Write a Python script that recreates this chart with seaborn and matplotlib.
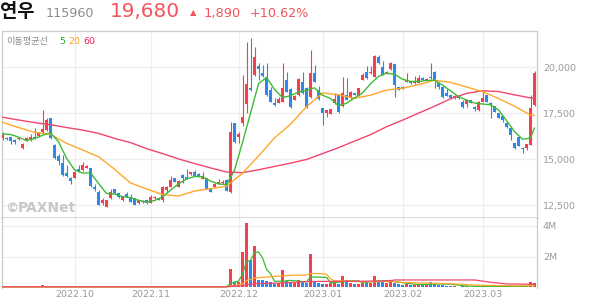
import numpy as np
import matplotlib
matplotlib.use("Agg")
import matplotlib.pyplot as plt
import seaborn as sns

# ---------------- data ----------------
month_labels = ["2022.10", "2022.11", "2022.12", "2023.01", "2023.02", "2023.03"]
month_pos = [18, 37, 59, 80, 100, 120]
price_ticks = [12500, 15000, 17500, 20000]
vol_ticks = [2, 4]

opens = [16150, 16168, 16186, 16023, 16096, 15606, 16005, 16096, 16223, 16260,
         16450, 16560, 17221, 15770, 15171, 14771, 14264, 13955, 13973, 14464,
         14409, 14518, 14500, 13500, 13229, 12594, 12413, 12865, 13355, 13137,
         12774, 13083, 12865, 12865, 12593, 12640, 12774, 12593, 12865, 12865,
         12800, 13319, 13500, 13954, 13500, 14136, 14045, 14190, 14317, 14190,
         13918, 13954, 13355, 13500, 13646, 13680, 13864, 13228, 16949, 16187,
         16985, 18002, 18855, 19581, 20071, 19672, 19490, 18764, 18074, 18074,
         18129, 19309, 18837, 18220, 18492, 19218, 18855, 18401, 19672, 18764,
         17766, 17494, 17457, 18038, 18492, 17893, 18492, 18310, 18582, 18437,
         19309, 19762, 19672, 19490, 20579, 20035, 19635, 19889, 20180, 18909,
         18946, 19218, 19254, 19127, 19163, 19436, 19254, 19490, 19762, 19127,
         18909, 18619, 18492, 18310, 18455, 18129, 18002, 18220, 17857, 17675,
         18129, 18492, 18074, 17893, 17494, 17348, 16949, 16677, 15860, 16223,
         15624, 15588, 15770, 17947]
highs = [16495, 16200, 16220, 16078, 16223, 15880, 16230, 16340, 16700, 16450,
         17675, 17250, 17221, 15800, 15280, 15225, 14681, 14046, 14350, 14681,
         14862, 14660, 14530, 13645, 13300, 12866, 12800, 13355, 13380, 13150,
         13000, 13228, 13083, 12900, 12800, 12770, 12800, 13047, 13000, 12900,
         13550, 13520, 14100, 13980, 13850, 14180, 14444, 14300, 14400, 14220,
         14317, 13980, 13380, 13700, 13890, 13860, 13920, 17040, 16949, 16495,
         19581, 21359, 21577, 21124, 20216, 20125, 20216, 18909, 18310, 18401,
         20216, 19762, 18870, 18500, 19400, 19762, 18900, 20942, 20125, 19000,
         17800, 17700, 17750, 18619, 18520, 19490, 19400, 18700, 18600, 18880,
         19708, 20071, 20071, 20670, 20670, 20361, 19800, 20307, 20200, 18950,
         18960, 19708, 19270, 19526, 19581, 19460, 19400, 20216, 19817, 19218,
         19036, 18800, 18510, 18480, 18470, 18220, 18240, 18240, 17911, 18150,
         18673, 18510, 18090, 17911, 17510, 17360, 16970, 16700, 15880, 16240,
         15640, 15830, 18492, 19820]
lows = [16042, 16050, 15806, 15842, 16042, 15570, 15990, 15980, 16078, 16223,
        16405, 16540, 16114, 15030, 14681, 14100, 14050, 13647, 13950, 14300,
        14373, 14490, 13500, 13280, 12480, 12503, 12400, 12830, 13100, 12900,
        12740, 12920, 12650, 12480, 12560, 12610, 12560, 12593, 12840, 12750,
        12684, 13137, 13480, 13750, 13480, 13682, 13900, 14150, 14080, 14020,
        13900, 13350, 13200, 13480, 13620, 13650, 13250, 13137, 15860, 15860,
        16822, 17494, 18700, 19500, 19309, 19450, 18450, 18100, 17900, 18050,
        18100, 18650, 17800, 18200, 18450, 18550, 17780, 18350, 19180, 18200,
        16858, 17312, 17430, 18000, 17494, 17850, 18200, 18290, 18470, 18420,
        19290, 19380, 19650, 19470, 20200, 19560, 19610, 19870, 18365, 18740,
        18820, 19200, 19110, 19110, 19140, 19290, 19230, 19380, 18855, 18800,
        18310, 18420, 18330, 18290, 18290, 17766, 17820, 18050, 17639, 17621,
        18110, 18110, 17221, 17560, 17240, 17040, 16677, 16042, 15570, 15700,
        15316, 15497, 15750, 17900]
closes = [16296, 16078, 15969, 15933, 16168, 15800, 16168, 16223, 16114, 16405,
          16640, 17130, 16140, 15044, 14899, 14137, 14082, 13828, 14318, 14373,
          14681, 14627, 13537, 13356, 12503, 12775, 12775, 13228, 13137, 12920,
          12956, 12956, 12684, 12502, 12774, 12740, 12593, 12956, 12956, 12774,
          13500, 13500, 13864, 13773, 13818, 13954, 13918, 14281, 14100, 14045,
          14045, 13374, 13228, 13646, 13773, 13780, 13283, 16495, 15950, 16368,
          17276, 19091, 18764, 20579, 19889, 19526, 18492, 18129, 17947, 18274,
          18855, 18673, 17820, 18455, 19345, 18582, 17820, 19672, 19218, 18256,
          17530, 17675, 17730, 18256, 17584, 18619, 18220, 18673, 18492, 18855,
          19581, 19400, 19762, 20615, 20216, 19581, 19762, 20216, 19036, 18764,
          18837, 19309, 19127, 19272, 19436, 19309, 19363, 19400, 19309, 18909,
          18401, 18437, 18347, 18455, 18310, 17857, 18220, 18074, 17730, 18129,
          18310, 18129, 17947, 17584, 17258, 17131, 16767, 16314, 15588, 15733,
          15534, 15806, 17790, 19680]
volume_m = [0.03, 0.02, 0.03, 0.02, 0.02, 0.04, 0.03, 0.03, 0.05, 0.03,
            0.15, 0.08, 0.06, 0.05, 0.03, 0.04, 0.03, 0.03, 0.03, 0.02,
            0.03, 0.02, 0.04, 0.03, 0.05, 0.03, 0.03, 0.03, 0.02, 0.02,
            0.02, 0.03, 0.02, 0.03, 0.02, 0.02, 0.02, 0.03, 0.02, 0.02,
            0.04, 0.03, 0.04, 0.02, 0.03, 0.03, 0.03, 0.02, 0.02, 0.02,
            0.02, 0.03, 0.02, 0.02, 0.03, 0.02, 0.04, 1.22, 0.37, 0.33,
            2.33, 4.20, 1.80, 2.70, 0.48, 0.47, 0.42, 0.33, 0.24, 0.26,
            1.13, 0.40, 0.35, 0.26, 0.45, 0.37, 0.26, 2.17, 0.33, 0.26,
            0.22, 0.20, 0.26, 0.28, 0.22, 0.76, 0.48, 0.26, 0.20, 0.20,
            0.37, 0.33, 0.26, 0.76, 0.37, 0.33, 0.28, 0.37, 0.30, 0.20,
            0.15, 0.20, 0.13, 0.15, 0.15, 0.12, 0.13, 0.37, 0.20, 0.15,
            0.18, 0.10, 0.08, 0.06, 0.05, 0.07, 0.06, 0.05, 0.06, 0.07,
            0.06, 0.05, 0.08, 0.06, 0.05, 0.06, 0.07, 0.06, 0.08, 0.06,
            0.05, 0.07, 0.37, 0.30]

ma5_idx = list(range(0, 133, 2)) + [133]
ma5 = [16370, 16340, 16200, 16005, 16120, 16300, 16420, 15950, 15050, 14420,
       14240, 14250, 13680, 13130, 13100, 12960, 12900, 12760, 12660, 12740,
       12950, 13300, 13650, 13920, 14050, 14050, 13800, 13650, 13610, 14400,
       15900, 17500, 19100, 19450, 18800, 18350, 18450, 18650, 18750, 18880,
       18480, 18300, 17900, 18040, 18330, 18600, 19100, 19500, 19680, 19620,
       19350, 19230, 19230, 19280, 19300, 19030, 18720, 18400, 18220, 18050,
       18000, 17960, 17680, 17100, 16500, 16080, 16150, 16700]
ma20_idx = list(range(0, 133, 4)) + [133]
ma20 = [17000, 16720, 16460, 16350, 15860, 15500, 15130, 14450, 13700, 13380,
        13070, 12990, 13260, 13390, 13520, 14230, 15170, 16150, 16900, 17850,
        18600, 18500, 18310, 18480, 18760, 18860, 19050, 19290, 19180, 18930,
        18670, 18300, 17880, 17400, 17380]
ma60_idx = list(range(0, 133, 4)) + [133]
ma60 = [17280, 17130, 16990, 16870, 16720, 16580, 16400, 16130, 15900, 15570,
        15300, 15010, 14760, 14520, 14300, 14260, 14420, 14600, 14780, 14980,
        15300, 15620, 15980, 16330, 16760, 17120, 17500, 17880, 18280, 18580,
        18720, 18680, 18500, 18330, 18320]

vma5_idx = [0, 56, 57, 58, 59, 60, 61, 62, 63, 64, 65, 66, 67, 68, 70, 72, 76, 77,
            81, 82, 85, 86, 89, 90, 93, 97, 98, 100, 104, 107, 110, 112, 116, 120,
            128, 131, 132, 133]
vma5 = [0.03, 0.03, 0.27, 0.34, 0.40, 0.85, 1.68, 1.75, 2.27, 2.30, 1.93, 1.18, 0.89,
        0.39, 0.40, 0.45, 0.35, 0.68, 0.65, 0.30, 0.35, 0.42, 0.42, 0.30, 0.40, 0.45,
        0.38, 0.30, 0.17, 0.20, 0.22, 0.20, 0.08, 0.06, 0.06, 0.06, 0.12, 0.17]
vma20_idx = [0, 56, 57, 60, 61, 63, 65, 70, 72, 76, 77, 79, 81, 82, 83, 85, 90, 97,
             100, 105, 110, 115, 118, 122, 128, 133]
vma20 = [0.03, 0.03, 0.09, 0.22, 0.43, 0.60, 0.65, 0.75, 0.78, 0.80, 0.90, 0.90,
         0.85, 0.55, 0.42, 0.42, 0.36, 0.38, 0.32, 0.28, 0.25, 0.20, 0.15, 0.12,
         0.10, 0.10]
vma60_idx = [0, 56, 57, 60, 61, 63, 65, 70, 72, 77, 90, 97, 98, 118, 122, 126, 133]
vma60 = [0.03, 0.03, 0.05, 0.10, 0.17, 0.23, 0.25, 0.28, 0.32, 0.38, 0.40, 0.42,
         0.48, 0.48, 0.33, 0.22, 0.20]

# ---------------- style ----------------
sns.set_style("white")
plt.rcParams['font.family'] = ['DejaVu Sans', 'Noto Sans CJK KR']

UP = '#f2414b'
DOWN = '#2e88e8'
C5 = '#3cbb34'
C20 = '#ffa72a'
C60 = '#f2456b'
GRID = '#eeeeee'
LABEL = '#9a9a9a'
BORDER = '#cccccc'

W, H = 594, 304
fig = plt.figure(figsize=(W / 100, H / 100), dpi=100)

L, R = 2.0, 537.3
TOP, MID, BOT = 30.7, 217.7, 287.5
ax_p = fig.add_axes([L / W, 1 - MID / H, (R - L) / W, (MID - TOP) / H])
ax_v = fig.add_axes([L / W, 1 - BOT / H, (R - L) / W, (BOT - MID) / H], sharex=ax_p)

o = np.array(opens, float)
h = np.array(highs, float)
lo = np.array(lows, float)
c = np.array(closes, float)
x = np.arange(len(c))
cols = np.where(c >= o, UP, DOWN)

# grid
for ax in (ax_p, ax_v):
    for mp in month_pos:
        ax.axvline(mp, color=GRID, lw=0.9, zorder=0)
for pt in price_ticks:
    ax_p.axhline(pt, color=GRID, lw=0.9, zorder=0)
for vt in vol_ticks:
    ax_v.axhline(vt, color=GRID, lw=0.9, zorder=0)

# candles
ax_p.vlines(x, lo, h, colors=cols, lw=0.8, zorder=2)
body_b = np.minimum(o, c)
body_h = np.maximum(np.abs(c - o), 60)
ax_p.bar(x, body_h, bottom=body_b, width=0.74, color=cols, linewidth=0, zorder=3)

# moving averages
sns.lineplot(x=ma60_idx, y=ma60, ax=ax_p, color=C60, lw=1.0, sort=False,
             estimator=None, errorbar=None, legend=False, zorder=4)
sns.lineplot(x=ma20_idx, y=ma20, ax=ax_p, color=C20, lw=1.0, sort=False,
             estimator=None, errorbar=None, legend=False, zorder=4)
sns.lineplot(x=ma5_idx, y=ma5, ax=ax_p, color=C5, lw=1.0, sort=False,
             estimator=None, errorbar=None, legend=False, zorder=5)

# volume
ax_v.bar(x, volume_m, width=0.74, color=cols, linewidth=0, zorder=2)
sns.lineplot(x=vma5_idx, y=vma5, ax=ax_v, color=C5, lw=0.9, sort=False,
             estimator=None, errorbar=None, legend=False, zorder=3)
sns.lineplot(x=vma20_idx, y=vma20, ax=ax_v, color=C20, lw=0.9, sort=False,
             estimator=None, errorbar=None, legend=False, zorder=3)
sns.lineplot(x=vma60_idx, y=vma60, ax=ax_v, color=C60, lw=0.9, sort=False,
             estimator=None, errorbar=None, legend=False, zorder=4)

# limits
ax_p.set_xlim(-0.125, (R - 2.5) / 4.0)
ax_p.set_ylim(11809, 21992)
ax_v.set_ylim(-0.013, 4.54)

# ticks
ax_p.yaxis.tick_right()
ax_p.set_yticks(price_ticks)
ax_p.set_yticklabels([f"{v:,}" for v in price_ticks])
ax_p.tick_params(axis='y', length=0, pad=4, labelsize=6.8, labelcolor=LABEL)
ax_p.tick_params(axis='x', length=0, labelbottom=False)

ax_v.yaxis.tick_right()
ax_v.set_yticks(vol_ticks)
ax_v.set_yticklabels([f"{v}M" for v in vol_ticks])
ax_v.tick_params(axis='y', length=0, pad=4, labelsize=6.8, labelcolor=LABEL)
ax_v.set_xticks(month_pos)
ax_v.set_xticklabels(month_labels)
ax_v.tick_params(axis='x', length=0, pad=2, labelsize=6.8, labelcolor=LABEL)
ax_p.set_xlabel("")
ax_p.set_ylabel("")
ax_v.set_xlabel("")
ax_v.set_ylabel("")

# spines
for sp in ('top', 'left', 'right'):
    ax_p.spines[sp].set_color(BORDER)
    ax_p.spines[sp].set_linewidth(0.9)
ax_p.spines['bottom'].set_color('#444444')
ax_p.spines['bottom'].set_linewidth(1.0)
ax_v.spines['top'].set_visible(False)
ax_v.spines['bottom'].set_visible(False)
for sp in ('left', 'right'):
    ax_v.spines[sp].set_color(BORDER)
    ax_v.spines[sp].set_linewidth(0.9)


def fx(px):
    return px / W


def fy(py):
    return 1 - py / H


KR = ['Noto Sans CJK KR', 'DejaVu Sans']
NUM = ['DejaVu Sans', 'Noto Sans CJK KR']

# header
fig.text(fx(0), fy(16.6), "연우", family=KR, fontsize=13.5, fontweight='bold',
         color='#111111', va='baseline', ha='left')
fig.text(fx(45.5), fy(16.7), "115960", family=NUM, fontsize=9.2,
         color='#8c8c8c', va='baseline', ha='left')
fig.text(fx(109.5), fy(17.3), "19,680", family=NUM, fontsize=14.4,
         color='#f2545b', va='baseline', ha='left')
fig.text(fx(189.5), fy(14.6), "▲", family=NUM, fontsize=6.0,
         color='#f2545b', va='baseline', ha='left')
fig.text(fx(203.5), fy(16.7), "1,890", family=NUM, fontsize=9.4,
         color='#f2545b', va='baseline', ha='left')
fig.text(fx(249.5), fy(16.7), "+10.62%", family=NUM, fontsize=9.2,
         color='#f2545b', va='baseline', ha='left')

# MA legend
fig.text(fx(6), fy(44.2), "이동평균선", family=KR, fontsize=6.6,
         color='#8a8a8a', va='baseline', ha='left')
fig.text(fx(59.5), fy(44.2), "5", family=NUM, fontsize=6.8,
         color='#22aa22', va='baseline', ha='left')
fig.text(fx(68), fy(44.2), "20", family=NUM, fontsize=6.8,
         color='#ffa31a', va='baseline', ha='left')
fig.text(fx(83), fy(44.2), "60", family=NUM, fontsize=6.8,
         color='#ee2255', va='baseline', ha='left')

# watermark
fig.text(fx(5), fy(211.5), "©", family=NUM, fontsize=9.5,
         color='#c8c8c8', va='baseline', ha='left', fontweight='bold')
fig.text(fx(18), fy(211.5), "PAXNet", family=NUM, fontsize=10,
         color='#c8c8c8', va='baseline', ha='left', fontweight='bold')

fig.savefig("out.png", dpi=100)
